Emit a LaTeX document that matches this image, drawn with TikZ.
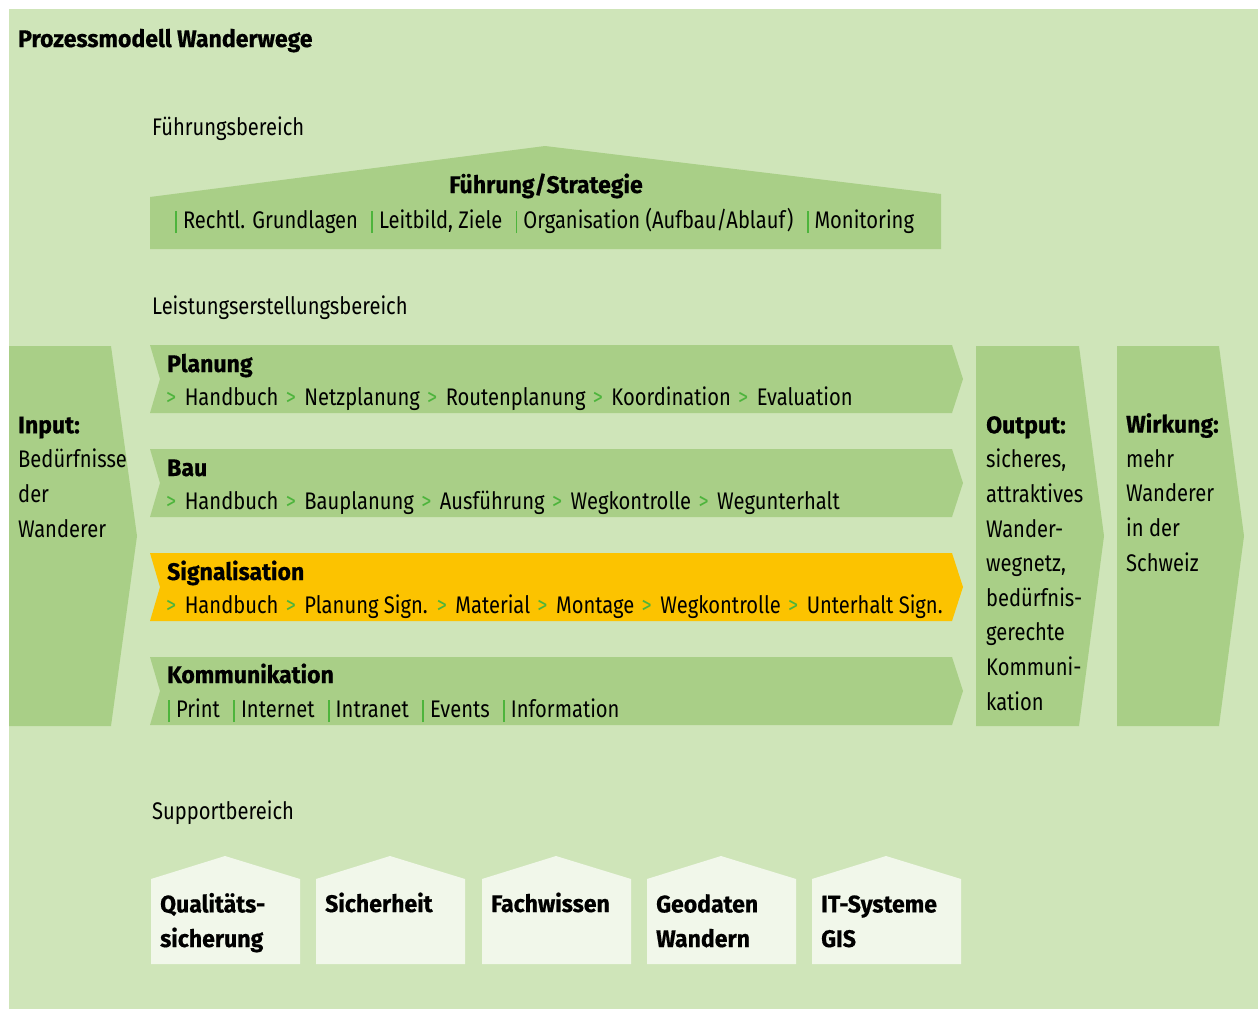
\documentclass[tikz,border=0pt]{standalone}
\usepackage{fontspec}
\setmainfont{Fira Sans}[FakeStretch=0.84]
\newfontfamily\headfont{Fira Sans}[FakeStretch=0.96, BoldFeatures={FakeBold=0.6}]
\usetikzlibrary{positioning}
\definecolor{bgGreen}{HTML}{CFE5B9}
\definecolor{midGreen}{HTML}{A9CF87}
\definecolor{sunYellow}{HTML}{FCC300}
\definecolor{paleGreen}{HTML}{F1F7EA}
\definecolor{sepGreen}{HTML}{4DB43C}
\newcommand*{\barLeft}{150}
\newcommand*{\barRight}{952}
\newcommand*{\sepBar}{\textcolor{sepGreen}{\rule[-5pt]{1.8pt}{22pt}}\hspace{6pt}}
\newcommand*{\nxt}{\hspace{2pt}\textcolor{sepGreen}{>}\hspace{8.5pt}}
% process bar: top y, fill colour
\newcommand*{\procBar}[2]{%
    \fill[#2] (\barLeft,#1) -- (\barRight,#1) -- (963,{#1+34}) -- (\barRight,{#1+68})
        -- (\barLeft,{#1+68}) -- (160,{#1+34}) -- cycle;}
% support house: left x
\newcommand*{\supHouse}[1]{%
    \fill[paleGreen] (#1,964) -- (#1,879) -- ({#1+74},856) -- ({#1+149},879) -- ({#1+149},964) -- cycle;}
\tikzset{
    areaText/.style  = {anchor=base west, inner sep=0pt, font=\fontsize{24}{34.6}\selectfont},
    headText/.style  = {areaText, font=\fontsize{24}{34.6}\selectfont\headfont\bfseries},
    blockText/.style = {areaText, align=left},
    houseText/.style = {headText, align=left},
    arrowBox/.style  = {fill=midGreen}
}

\begin{document}
\begin{tikzpicture}[x=1pt, y=-1pt]
    \useasboundingbox (0,0) rectangle (1258,1009);
    \fill[bgGreen] (9,9) rectangle (1258,1009);

    \node (title) [headText] at (18,47) {Prozessmodell Wanderwege};

    % Fuehrungsbereich
    \node (fuehrLabel) [areaText] at (152,135) {Führungsbereich};
    \fill[midGreen] (150,249) -- (150,197) -- (545,146) -- (941,194) -- (941,249) -- cycle;
    \node (strategy) [headText, anchor=base] at (546,193) {Führung/Strategie};
    \node (strategyItems) [areaText] at (175,228)
        {\sepBar Rechtl. Grundlagen\hspace{8pt} \sepBar Leitbild, Ziele\hspace{8pt} \sepBar Organisation (Aufbau/Ablauf)\hspace{8pt} \sepBar Monitoring};

    % Leistungserstellungsbereich
    \node (leistLabel) [areaText] at (152,314) {Leistungserstellungsbereich};
    \fill[arrowBox] (9,346) -- (111,346) -- (137,536) -- (111,726) -- (9,726) -- cycle;
    % multi-line blocks: base is the last line
    \node (input) [blockText] at (18,537) {\textbf{\headfont Input:}\\Bedürfnisse\\der\\Wanderer};

    \procBar{345}{midGreen}
    \node (planung) [headText] at (167,372) {Planung};
    \node (planungItems) [areaText] at (164,405)
        {\nxt Handbuch \nxt Netzplanung \nxt Routenplanung \nxt Koordination \nxt Evaluation};

    \procBar{449}{midGreen}
    \node (bau) [headText] at (167,476) {Bau};
    \node (bauItems) [areaText] at (164,509)
        {\nxt Handbuch \nxt Bauplanung \nxt Ausführung \nxt Wegkontrolle \nxt Wegunterhalt};

    \procBar{553}{sunYellow}
    \node (signal) [headText] at (167,580) {Signalisation};
    \node (signalItems) [areaText] at (164,613)
        {\nxt Handbuch \nxt Planung Sign. \nxt Material \nxt Montage \nxt Wegkontrolle \nxt Unterhalt Sign.};

    \procBar{657}{midGreen}
    \node (komm) [headText] at (167,683) {Kommunikation};
    \node (kommItems) [areaText] at (168,717)
        {\sepBar Print\hspace{8pt} \sepBar Internet\hspace{8pt} \sepBar Intranet\hspace{8pt} \sepBar Events\hspace{8pt} \sepBar Information};

    \fill[arrowBox] (976,346) -- (1079,346) -- (1104,536) -- (1079,726) -- (976,726) -- cycle;
    \node (output) [blockText] at (986,710)
        {\textbf{\headfont Output:}\\sicheres,\\attraktives\\Wander-\\wegnetz,\\bedürfnis-\\gerechte\\Kommuni-\\kation};

    \fill[arrowBox] (1117,346) -- (1219,346) -- (1244,536) -- (1219,726) -- (1117,726) -- cycle;
    \node (wirkung) [blockText] at (1126,571) {\textbf{\headfont Wirkung:}\\mehr\\Wanderer\\in der\\Schweiz};

    % Supportbereich
    \node (supLabel) [areaText] at (152,819) {Supportbereich};
    \supHouse{151}
    \supHouse{316}
    \supHouse{482}
    \supHouse{647}
    \supHouse{812}
    \node (quality) [houseText] at (160,947) {Qualitäts-\\sicherung};
    \node (safety)  [houseText] at (325,912) {Sicherheit};
    \node (expert)  [houseText] at (491,912) {Fachwissen};
    \node (geodata) [houseText] at (656,947) {Geodaten\\Wandern};
    \node (itSys)   [houseText] at (821,947) {IT-Systeme\\GIS};
\end{tikzpicture}
\end{document}
